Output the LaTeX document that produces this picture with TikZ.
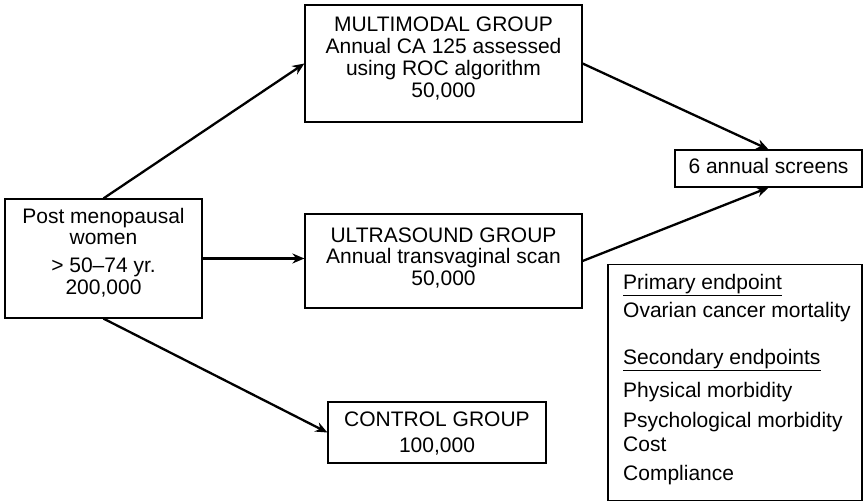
\documentclass[tikz,border=0pt]{standalone}
\usepackage{fontspec}
\setmainfont{Liberation Sans}
\usetikzlibrary{arrows.meta}

\begin{document}
\begin{tikzpicture}[x=1pt,y=-1pt]
\tikzset{
  groupbox/.style={draw,line width=1.2pt,inner sep=0pt},
  boxtext/.style={align=center,inner sep=0pt,font=\fontsize{21}{21.7}\selectfont},
  flow/.style={-{Stealth[length=12pt,width=10pt]},line width=2.3pt},
  endtext/.style={anchor=base west,inner sep=0pt,font=\fontsize{21}{21.7}\selectfont},
  heading/.style={line width=1.3pt}
}
\useasboundingbox (0,0) rectangle (863,502);
% boxes
\node[groupbox,minimum width=197pt,minimum height=119pt] (post) at (103.5,258.5) {};
\node[groupbox,minimum width=277pt,minimum height=117pt] (multi) at (443.5,63.5) {};
\node[groupbox,minimum width=277pt,minimum height=94pt] (ultra) at (443.5,261) {};
\node[groupbox,minimum width=218pt,minimum height=61pt] (control) at (437,432.5) {};
\node[groupbox,minimum width=187pt,minimum height=37pt] (screens) at (768.5,168.5) {};
\node[groupbox,minimum width=254pt,minimum height=236pt] (endpts) at (735,382.5) {};
% box texts
\node[boxtext] (post-t) at ([yshift=6pt]post.center) {Post menopausal\\women\\[6pt]> 50--74 yr.\\200,000};
\node[boxtext] (multi-t) at ([yshift=5pt]multi.center) {MULTIMODAL GROUP\\Annual CA 125 assessed\\using ROC algorithm\\50,000};
\node[boxtext] (ultra-t) at ([yshift=3pt]ultra.center) {ULTRASOUND GROUP\\Annual transvaginal scan\\50,000};
\node[boxtext] (control-t) at ([yshift=-1pt]control.center) {CONTROL GROUP\\[3.5pt]100,000};
\node[boxtext] (screens-t) at ([yshift=3pt]screens.center) {6 annual screens};
% endpoint list
\node[endtext] (prim) at (623,290) {Primary endpoint};
\node[endtext] (ovar) at (623,318) {Ovarian cancer mortality};
\node[endtext] (sec) at (623,365) {Secondary endpoints};
\node[endtext] (phys) at (623,398) {Physical morbidity};
\node[endtext] (psych) at (623,428) {Psychological morbidity};
\node[endtext] (cost) at (623,452) {Cost};
\node[endtext] (compl) at (623,481) {Compliance};
\draw[heading] ([yshift=-5.5pt]prim.base west) -- ([yshift=-5.5pt]prim.base east);
\draw[heading] ([yshift=-5.5pt]sec.base west) -- ([yshift=-5.5pt]sec.base east);
% arrows
\draw[flow] (post.north) -- (multi.west);
\draw[flow] (post.east) -- (post.east -| ultra.west);
\draw[flow] (post.south) -- (control.west);
\draw[flow] (multi.east) -- (screens.north);
\draw[flow] (ultra.east) -- (screens.south);
\end{tikzpicture}
\end{document}
